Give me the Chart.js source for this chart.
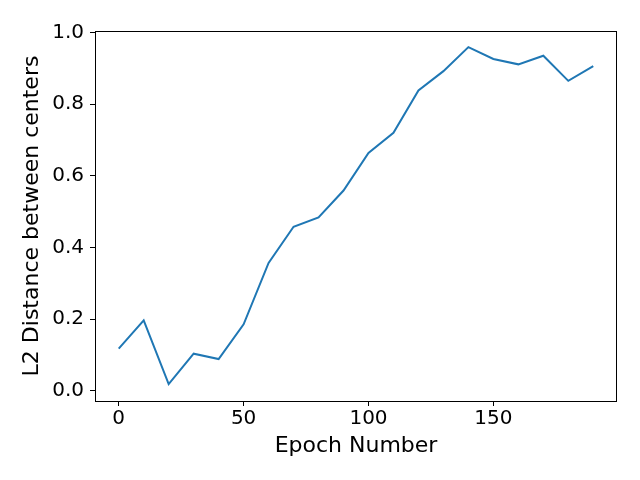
<!DOCTYPE html>
<html>
<head>
<meta charset="utf-8">
<script src="https://cdn.jsdelivr.net/npm/chart.js@4"></script>
<style>
  html, body { margin: 0; padding: 0; background: #fff; }
  canvas { display: block; }
</style>
</head>
<body>
<canvas id="chart" width="640" height="480"></canvas>
<script>
/* values */
const epochs = [0, 10, 20, 30, 40, 50, 60, 70, 80, 90, 100, 110, 120, 130, 140, 150, 160, 170, 180, 190]
const distances = [0.118, 0.197, 0.019, 0.104, 0.089, 0.186, 0.357, 0.458, 0.484, 0.559,
	0.664, 0.720, 0.838, 0.892, 0.959, 0.926, 0.911, 0.935, 0.865, 0.906]
const xTicks = [0, 50, 100, 150]
const yTicks = [0.0, 0.2, 0.4, 0.6, 0.8, 1.0]

const xLabel = 'Epoch Number'
const yLabel = 'L2 Distance between centers'

// spines on all four sides, like matplotlib
const frame = {
	id: 'frame',
	afterDraw(chart) {
		const { ctx, chartArea: a } = chart
		ctx.save()
		ctx.strokeStyle = '#000'
		ctx.lineWidth = 1
		ctx.strokeRect(Math.round(a.left) + 0.5, Math.round(a.top) + 0.5,
			Math.round(a.right - a.left) - 1, Math.round(a.bottom - a.top))
		ctx.restore()
	}
}

const tickFont = { family: 'DejaVu Sans', size: 20 }
const titleFont = { family: 'DejaVu Sans', size: 22 }

new Chart('chart', {
	type: 'line',
	data: {
		datasets: [{
			data: epochs.map((e, i) => ({ x: e, y: distances[i] })),
			borderColor: '#1f77b4',
			borderWidth: 2,
			pointRadius: 0,
			tension: 0,
			fill: false
		}]
	},
	options: {
		responsive: false,
		animation: false,
		layout: { padding: { left: 0, top: 31, right: 23, bottom: 0 } },
		plugins: { legend: { display: false }, tooltip: { enabled: false } },
		scales: {
			x: {
				type: 'linear',
				min: -9.5,
				max: 199.5,
				afterBuildTicks: (s) => { s.ticks = xTicks.map(v => ({ value: v })) },
				afterFit: (s) => { s.height = 79 },
				grid: { drawOnChartArea: false, drawTicks: true, tickLength: 5, color: '#000' },
				border: { display: false },
				ticks: { color: '#000', font: tickFont, padding: 1, maxRotation: 0 },
				title: { display: true, text: xLabel, color: '#000', font: titleFont, padding: { top: 0, bottom: 21 } }
			},
			y: {
				min: -0.028,
				max: 1.004,
				afterBuildTicks: (s) => { s.ticks = yTicks.map(v => ({ value: v })) },
				afterFit: (s) => { s.width = 95 },
				grid: { drawOnChartArea: false, drawTicks: true, tickLength: 5, color: '#000' },
				border: { display: false },
				ticks: { color: '#000', font: tickFont, padding: 6, callback: (v) => v.toFixed(1) },
				title: { display: true, text: yLabel, color: '#000', font: titleFont, padding: { top: 19, bottom: 0 } }
			}
		}
	},
	plugins: [frame]
})
</script>
</body>
</html>
